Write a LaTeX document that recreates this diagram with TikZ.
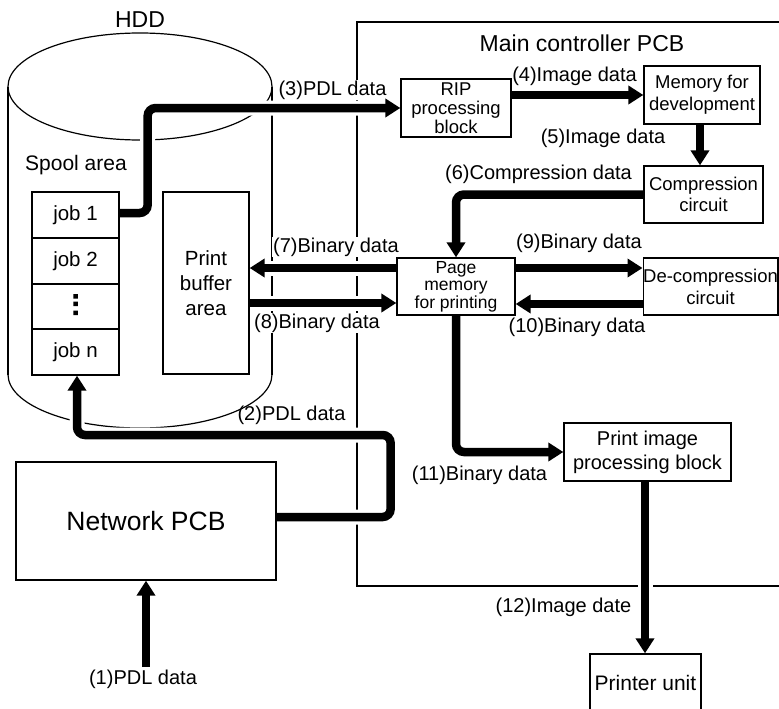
\documentclass[tikz,border=0pt]{standalone}
\usepackage{fontspec}
\setmainfont{Liberation Sans}
\usetikzlibrary{arrows.meta,calc}
\pgfdeclarelayer{bg}
\pgfsetlayers{bg,main}
\tikzset{
  box/.style={draw, line width=1.3pt, inner sep=0pt, align=center, fill=white},
  flow/.style={line width=8.5pt, -{Triangle[length=15pt,width=18pt]}, rounded corners=8pt},
  halo/.style={line width=15pt, white, rounded corners=8pt},
  lbl/.style={inner sep=1pt, font=\fontsize{20pt}{22pt}\selectfont},
  lblw/.style={lbl, fill=white},
  outline/.style={line width=1.2pt},
}
\newcommand\flowarrow[1]{%
  \begin{pgfonlayer}{bg}\draw[halo] #1;\end{pgfonlayer}%
  \draw[flow] #1;}
\begin{document}
\begin{tikzpicture}[x=1pt,y=-1pt]
\useasboundingbox (0,0) rectangle (779,709);
% background: HDD cylinder and main controller frame
\begin{pgfonlayer}{bg}
  \draw[outline] (140,86.5) ellipse[x radius=132, y radius=53.5];
  \draw[outline] (8,86.5) -- (8,374.5) (272,86.5) -- (272,374.5);
  \begin{scope}
    \clip (0,374.5) rectangle (290,440);
    \draw[outline] (140,374.5) ellipse[x radius=132, y radius=53.5];
  \end{scope}
  \draw[line width=1.3pt] (800,22) -- (357,22) -- (357,586) -- (800,586);
\end{pgfonlayer}
% titles
\node[font=\fontsize{23pt}{23pt}\selectfont] (hdd) at (140,20) {HDD};
\node[font=\fontsize{23pt}{23pt}\selectfont] (mcpcb) at (582,43) {Main controller PCB};
\node[font=\fontsize{21pt}{21pt}\selectfont] (spool) at (76,165) {Spool area};
% boxes
\node[box, minimum width=87pt, minimum height=46pt, font=\fontsize{20.5pt}{22pt}\selectfont] (job1) at (75.5,215) {job 1};
\node[box, minimum width=87pt, minimum height=46pt, font=\fontsize{20.5pt}{22pt}\selectfont] (job2) at (75.5,261) {job 2};
\node[box, minimum width=87pt, minimum height=45pt] (dots) at (75.5,306.5) {};
\node[box, minimum width=87pt, minimum height=46pt, font=\fontsize{20.5pt}{22pt}\selectfont] (jobn) at (75.5,352) {job n};
\fill (73.3,294) rectangle ++(4.5,4.5) (73.3,301.5) rectangle ++(4.5,4.5) (73.3,310.5) rectangle ++(4.5,4.5);
\node[box, minimum width=86pt, minimum height=182pt, font=\fontsize{20.5pt}{25pt}\selectfont] (buf) at (206,283) {Print\\buffer\\area};
\node[box, minimum width=260pt, minimum height=118pt, font=\fontsize{26.5pt}{28pt}\selectfont] (net) at (146,521) {Network PCB};
\node[box, minimum width=110pt, minimum height=58pt, font=\fontsize{18.5pt}{19pt}\selectfont] (rip) at (456,108) {RIP\\processing\\block};
\node[box, minimum width=116pt, minimum height=58pt, font=\fontsize{18.5pt}{22pt}\selectfont] (mem) at (702,95) {Memory for\\development};
\node[box, minimum width=119pt, minimum height=57pt, font=\fontsize{18.5pt}{21pt}\selectfont] (comp) at (703.5,194.5) {Compression\\circuit};
\node[box, minimum width=118pt, minimum height=57pt, font=\fontsize{17.5pt}{17.5pt}\selectfont] (page) at (456,286.5) {Page\\memory\\for printing};
\node[box, minimum width=133pt, minimum height=57pt, font=\fontsize{18.5pt}{22pt}\selectfont] (decomp) at (710.5,286.5) {De-compression\\circuit};
\node[box, minimum width=167pt, minimum height=58pt, font=\fontsize{20pt}{24pt}\selectfont] (pi) at (647.5,452) {Print image\\processing block};
\node[box, minimum width=111pt, minimum height=58pt, font=\fontsize{21pt}{22pt}\selectfont] (pu) at (645.5,683) {Printer unit};
% labels
\node[lbl] (l1) at (143,679) {(1)PDL data};
\node[lbl] (l2) at (291.5,415) {(2)PDL data};
\node[lblw] (l3) at (332.5,90) {(3)PDL data};
\node[lbl] (l4) at (574.5,76) {(4)Image data};
\node[lbl] (l5) at (603,138) {(5)Image data};
\node[lbl] (l6) at (538.5,174) {(6)Compression data};
\node[lblw] (l7) at (336,247) {(7)Binary data};
\node[lblw] (l8) at (317,323) {(8)Binary data};
\node[lbl] (l9) at (579,243) {(9)Binary data};
\node[lbl] (l10) at (577,327) {(10)Binary data};
\node[lbl] (l11) at (479.5,475) {(11)Binary data};
\node[lbl] (l12) at (563.5,607) {(12)Image date};
% helper coordinates
\coordinate (src1) at (146,667);
\coordinate (c2) at (77,435);
\coordinate (p5) at ([xshift=-2pt]mem.south);
\coordinate (p7) at ([yshift=18.5pt]page.west);
\coordinate (p8) at ([yshift=-16.5pt]page.west);
\coordinate (p10) at ([yshift=-17.5pt]page.east);
\coordinate (p12) at ([xshift=-2.5pt]pi.south);
% arrows
\flowarrow{(src1) -- (net.south)}
\flowarrow{([yshift=4pt]net.east) -- ++(114,0) |- (c2) -- (c2 |- jobn.south)}
\flowarrow{([yshift=2pt]job1.east) -- ++(28,0) |- (rip.west)}
\flowarrow{(rip.east |- mem.west) -- (mem.west)}
\flowarrow{(p5) -- (p5 |- comp.north)}
\flowarrow{(comp.west) -| (page.north)}
\flowarrow{(p7) -- (p7 -| buf.east)}
\flowarrow{(p8 -| buf.east) -- (p8)}
\flowarrow{(p7 -| page.east) -- (p7 -| decomp.west)}
\flowarrow{(p10 -| decomp.west) -- (p10)}
\flowarrow{(page.south) |- (pi.west)}
\flowarrow{(p12) -- (p12 |- pu.north)}
\end{tikzpicture}
\end{document}
